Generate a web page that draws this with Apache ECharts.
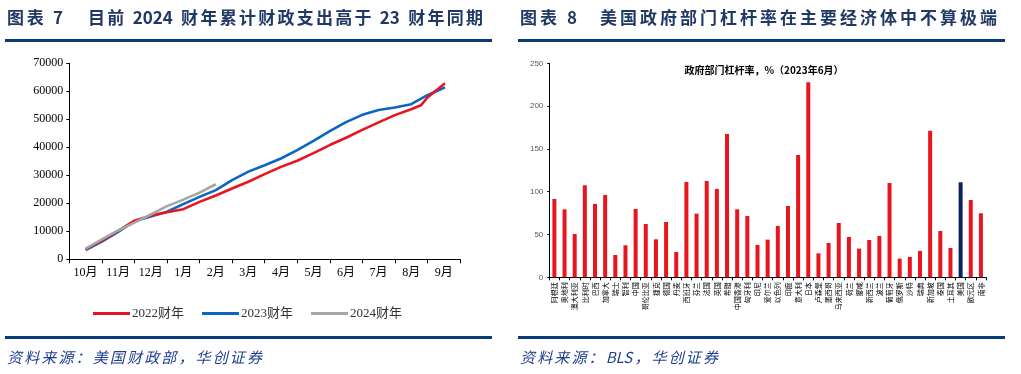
<!DOCTYPE html>
<html><head><meta charset="utf-8">
<script src="https://cdn.jsdelivr.net/npm/echarts@6/dist/echarts.min.js"></script>
<style>html,body{margin:0;padding:0;background:#fff}#c{width:1021px;height:374px}</style>
</head><body><div id="c"></div>
<script>
// ---------- Left chart data (cumulative FY outlays, 亿美元) ----------
const monthLabels = ['10月','11月','12月','1月','2月','3月','4月','5月','6月','7月','8月','9月'];
// [month offset from start of Oct, value]
const fy2022 = [[0.5,3600],[1.0,6700],[1.5,10200],[2.0,13800],[2.5,15600],[3.0,16800],[3.5,17900],[4.0,20500],[4.5,22800],[5.0,25300],[5.5,27700],[6.0,30400],[6.5,33000],[7.0,35200],[7.5,37900],[8.0,40800],[8.5,43400],[9.0,46200],[9.5,48900],[10.0,51500],[10.5,53600],[10.8,55000],[11.0,57800],[11.54,62900]];
const fy2023 = [[0.5,3300],[1.0,6300],[1.5,9800],[2.0,13600],[2.5,15300],[3.0,17000],[3.5,19700],[4.0,22300],[4.5,24700],[5.0,28300],[5.5,31300],[6.0,33600],[6.5,36000],[7.0,39000],[7.5,42300],[8.0,45800],[8.5,49000],[9.0,51600],[9.5,53300],[10.0,54200],[10.5,55400],[11.0,58600],[11.54,61400]];
const fy2024 = [[0.5,3800],[1.0,7100],[1.5,10300],[2.0,13100],[2.5,16000],[3.0,19000],[3.5,21300],[4.0,23800],[4.5,26800]];
const seriesNames = ['2022财年','2023财年','2024财年'];

// ---------- Right chart data (政府部门杠杆率 %, 2023年6月) ----------
const countries = ['阿根廷','奥地利','澳大利亚','比利时','巴西','加拿大','瑞士','智利','中国','哥伦比亚','捷克','德国','丹麦','西班牙','芬兰','法国','英国','希腊','中国香港','匈牙利','印尼','爱尔兰','以色列','印度','意大利','日本','卢森堡','墨西哥','马来西亚','荷兰','挪威','新西兰','波兰','葡萄牙','俄罗斯','沙特','瑞典','新加坡','泰国','土耳其','美国','欧元区','南非'];
const leverage = [91.5,79.4,50.6,107.5,85.7,96.2,26.1,37.4,79.8,62.3,44.4,64.6,29.6,111.4,74.4,112.5,103.2,167.4,79.4,71.7,37.8,44.0,60.0,83.3,142.9,227.8,28.0,40.1,63.5,47.1,33.5,43.6,48.3,110.2,21.8,23.8,30.8,171.3,54.1,34.3,111.0,90.3,74.8];
const highlightCountry = '美国';
const leftYTicks = {min:0, max:70000, interval:10000};
const rightYTicks = {min:0, max:250, interval:50};

const RED='#E8151F', BLUE='#0A66C2', GRAY='#A6A6A6', NAVY='#0B3A7A', US_COLOR='#0B2160';
const serif = '"Liberation Serif","Times New Roman","Noto Sans CJK SC",serif';
const cjk = '"Noto Sans CJK SC","Noto Sans",sans-serif';

// text with spacing stretched between x0 and x1 (per-token placement)
const measureCtx = document.createElement('canvas').getContext('2d');
function spacedText(str, x0, x1, yMid, font, fill){
  const tokens = str.match(/[A-Za-z0-9]+|\s|[^\sA-Za-z0-9]/g);
  measureCtx.font = font;
  const widths = tokens.map(t => measureCtx.measureText(t).width);
  const natural = widths.reduce((a,b)=>a+b,0);
  const gap = tokens.length>1 ? (x1 - x0 - natural)/(tokens.length-1) : 0;
  const children = [];
  let x = x0;
  tokens.forEach((t,i)=>{
    if (t.trim()) children.push({type:'text', x:x, y:yMid, style:{text:t, font:font, fill:fill, textVerticalAlign:'middle'}});
    x += widths[i] + gap;
  });
  return {type:'group', children:children};
}

const chart = echarts.init(document.getElementById('c'), null, {renderer:'canvas'});
const option = {
  animation:false,
  backgroundColor:'#fff',
  grid:[
    {left:69.3, top:63.3, width:390.7, height:196},
    {left:549.3, top:63.3, width:436.7, height:214}
  ],
  xAxis:[
    {type:'category', gridIndex:0, data:monthLabels, boundaryGap:true,
     axisLine:{lineStyle:{color:'#000',width:1}}, axisTick:{show:true,length:4,lineStyle:{color:'#000'}},
     axisLabel:{color:'#000',fontSize:12,fontFamily:serif,margin:8,interval:0}},
    {type:'value', gridIndex:0, min:0, max:12, show:false},
    {type:'category', gridIndex:1, data:countries, boundaryGap:true,
     axisLine:{lineStyle:{color:'#000',width:1}}, axisTick:{show:true,length:3,lineStyle:{color:'#000'}},
     axisLabel:{color:'#000',fontSize:7,fontFamily:cjk,rotate:90,interval:0,margin:5}}
  ],
  yAxis:[
    {type:'value', gridIndex:0, min:leftYTicks.min, max:leftYTicks.max, interval:leftYTicks.interval,
     axisLine:{show:true,lineStyle:{color:'#000',width:1}}, axisTick:{show:true,length:3,lineStyle:{color:'#000'}},
     splitLine:{show:false}, axisLabel:{color:'#000',fontSize:12,fontFamily:serif,margin:6,formatter:v=>String(v)}},
    {type:'value', gridIndex:1, min:rightYTicks.min, max:rightYTicks.max, interval:rightYTicks.interval,
     axisLine:{show:true,lineStyle:{color:'#000',width:1}}, axisTick:{show:true,length:2,lineStyle:{color:'#000'}},
     splitLine:{show:false}, axisLabel:{color:'#595959',fontSize:8,fontFamily:'"Liberation Sans",Arial,sans-serif',margin:6}}
  ],
  legend:{
    left:88, top:302, itemWidth:37, itemHeight:3, itemGap:18, icon:'rect',
    textStyle:{fontSize:13,fontFamily:serif,color:'#333',padding:[0,0,0,-3]},
    data:seriesNames
  },
  series:[
    {name:seriesNames[0], type:'line', xAxisIndex:1, yAxisIndex:0, data:fy2022, showSymbol:false, smooth:false,
     lineStyle:{color:RED,width:2.6}, itemStyle:{color:RED}, z:3},
    {name:seriesNames[1], type:'line', xAxisIndex:1, yAxisIndex:0, data:fy2023, showSymbol:false,
     lineStyle:{color:BLUE,width:2.6}, itemStyle:{color:BLUE}, z:2},
    {name:seriesNames[2], type:'line', xAxisIndex:1, yAxisIndex:0, data:fy2024, showSymbol:false,
     lineStyle:{color:GRAY,width:2.6}, itemStyle:{color:GRAY}, z:4},
    {name:'政府部门杠杆率', type:'bar', xAxisIndex:2, yAxisIndex:1, barWidth:4,
     data:leverage.map((v,i)=>({value:v, itemStyle:{color: countries[i]===highlightCountry ? US_COLOR : RED}}))}
  ],
  graphic:[
    spacedText('图表 7', 7, 63, 18, 'bold 17px '+cjk, '#1F3864'),
    spacedText('目前 2024 财年累计财政支出高于 23 财年同期', 88, 483, 18, 'bold 17px '+cjk, '#1F3864'),
    spacedText('图表 8', 520, 577, 18, 'bold 17px '+cjk, '#1F3864'),
    spacedText('美国政府部门杠杆率在主要经济体中不算极端', 600, 997, 18, 'bold 17px '+cjk, '#1F3864'),
    {type:'rect', shape:{x:5,y:39,width:487,height:3}, style:{fill:NAVY}},
    {type:'rect', shape:{x:518,y:39,width:487,height:3}, style:{fill:NAVY}},
    {type:'rect', shape:{x:5,y:336,width:487,height:3}, style:{fill:NAVY}},
    {type:'rect', shape:{x:518,y:336,width:487,height:3}, style:{fill:NAVY}},
    spacedText('资料来源：美国财政部，华创证券', 7, 262, 357, 'italic 15px '+cjk, '#1F3F8F'),
    spacedText('资料来源：BLS，华创证券', 520, 718, 357, 'italic 15px '+cjk, '#1F3F8F'),
    {type:'text', x:764, y:70, style:{text:'政府部门杠杆率，%（2023年6月）', font:'bold 10px '+cjk, fill:'#000', textAlign:'center', textVerticalAlign:'middle'}}
  ]
};
chart.setOption(option);
</script></body></html>
